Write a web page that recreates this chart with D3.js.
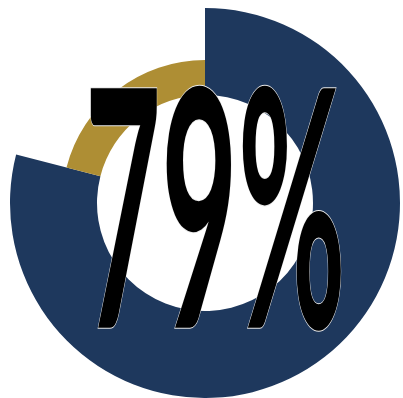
<!DOCTYPE html>
<html>
<head>
<meta charset="utf-8">
<script src="https://cdn.jsdelivr.net/npm/d3@7"></script>
<style>
  html, body { margin: 0; padding: 0; background: #fff; }
  svg { display: block; }
</style>
</head>
<body>
<div id="chart"></div>
<script>
// donnees
var categories = ["Atteint", "Restant"];
var valeurs = [79, 21];
var etiquette = "79%";

// dimensions
var width = 403, height = 398;
var cx = 205, cy = 203;
var rayonInterieur = 108;
var rayonsExterieurs = [195, 143];
var couleurs = ["#1E385D", "#AE8E34"];

var svg = d3.select("#chart").append("svg")
    .attr("width", width)
    .attr("height", height);

var g = svg.append("g")
    .attr("transform", "translate(" + cx + "," + cy + ")");

var pie = d3.pie().sort(null).value(function(d) { return d; });
var arcs = pie(valeurs);

// les secteurs
g.selectAll("path.secteur")
    .data(arcs)
    .enter().append("path")
    .attr("class", "secteur")
    .attr("d", function(d, i) {
        return d3.arc().innerRadius(rayonInterieur).outerRadius(rayonsExterieurs[i])(d);
    })
    .attr("fill", function(d, i) { return couleurs[i]; });

// le texte : on mesure les contours reels du glyphe pour le caler dans la boite
var famille = "Lato, sans-serif";
var ctx = document.createElement("canvas").getContext("2d");
ctx.font = "bold 100px " + famille;
var m = ctx.measureText(etiquette);
var gl = -m.actualBoundingBoxLeft, gr = m.actualBoundingBoxRight;
var gt = -m.actualBoundingBoxAscent, gb = m.actualBoundingBoxDescent;

var boite = {x0: 90, x1: 342, y0: 86, y1: 331};
var sx = (boite.x1 - boite.x0) / (gr - gl);
var sy = (boite.y1 - boite.y0) / (gb - gt);

svg.append("text")
    .attr("x", 0)
    .attr("y", 0)
    .attr("transform", "translate(" + (boite.x0 - gl * sx) + "," + (boite.y0 - gt * sy) + ") scale(" + sx + "," + sy + ")")
    .style("font-family", famille)
    .style("font-weight", "bold")
    .style("font-size", "100px")
    .attr("fill", "#000")
    .attr("stroke", "#e8e8e8")
    .attr("stroke-width", 1.5)
    .attr("vector-effect", "non-scaling-stroke")
    .style("paint-order", "stroke")
    .text(etiquette);
</script>
</body>
</html>
